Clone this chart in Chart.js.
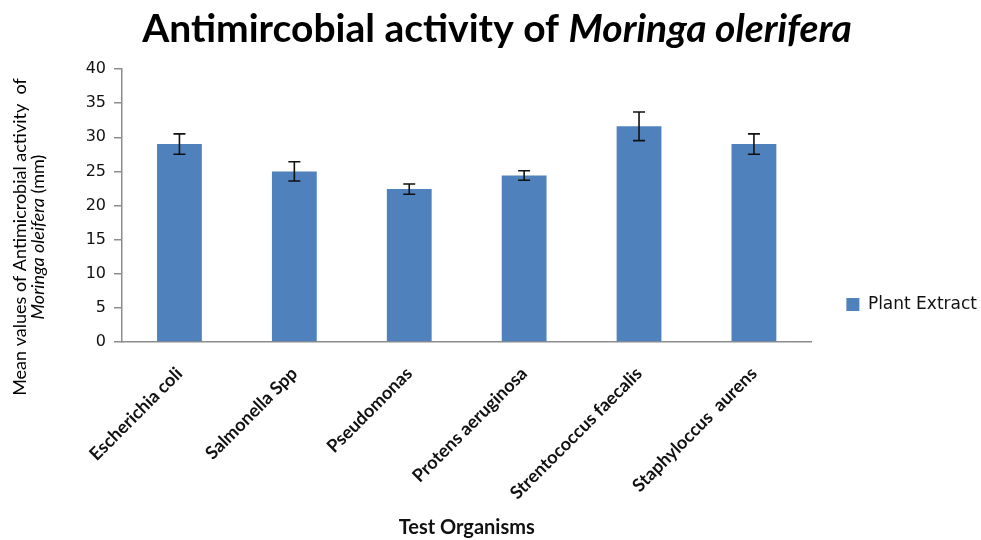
<!DOCTYPE html>
<html>
<head>
<meta charset="utf-8">
<script src="https://cdn.jsdelivr.net/npm/chart.js@4"></script>
<style>
  html, body { margin: 0; padding: 0; background: #fff; }
  #wrap { width: 981px; height: 540px; }
</style>
</head>
<body>
<div id="wrap"><canvas id="canBar" width="981" height="540"></canvas></div>
<script>
// data
var organisms = ['Escherichia coli', 'Salmonella Spp', 'Pseudomonas', 'Protens aeruginosa', 'Strentococcus faecalis', 'Staphyloccus  aurens'];
var meanValues = [29.0, 25.0, 22.4, 24.4, 31.6, 29.0];
var errValues = [1.5, 1.4, 0.75, 0.7, 2.1, 1.5];
var yTicks = [0, 5, 10, 15, 20, 25, 30, 35, 40];

// error bars, placed through the chart's own scales
var errorBars = {
    id: 'errorBars',
    afterDatasetsDraw: function (chart) {
        var ctx = chart.ctx;
        var meta = chart.getDatasetMeta(0);
        var y = chart.scales.y;
        ctx.save();
        ctx.strokeStyle = '#111';
        ctx.lineWidth = 1.6;
        meta.data.forEach(function (bar, i) {
            var top = y.getPixelForValue(meanValues[i] + errValues[i]);
            var bot = y.getPixelForValue(meanValues[i] - errValues[i]);
            ctx.beginPath();
            ctx.moveTo(bar.x, top); ctx.lineTo(bar.x, bot);
            ctx.moveTo(bar.x - 6, top); ctx.lineTo(bar.x + 6, top);
            ctx.moveTo(bar.x - 6, bot); ctx.lineTo(bar.x + 6, bot);
            ctx.stroke();
        });
        ctx.restore();
    }
};

// title and y axis title have italic words, so draw them by hand
var titles = {
    id: 'titles',
    afterDraw: function (chart) {
        var ctx = chart.ctx;
        ctx.save();
        ctx.fillStyle = '#000';
        ctx.textBaseline = 'alphabetic';

        var a = 'Antimircobial activity of ';
        var b = 'Moringa olerifera';
        var fa = 'bold 39px Lato';
        var fb = 'italic bold 39px Lato';
        ctx.font = fa; var wa = ctx.measureText(a).width;
        ctx.font = fb; var wb = ctx.measureText(b).width;
        var x0 = 497 - (wa + wb) / 2;
        ctx.textAlign = 'left';
        ctx.font = fa; ctx.fillText(a, x0, 42);
        ctx.font = fb; ctx.fillText(b, x0 + wa, 42);

        ctx.translate(26, 237);
        ctx.rotate(-Math.PI / 2);
        ctx.font = '18px Lato';
        ctx.textAlign = 'center';
        ctx.fillText('Mean values of Antimicrobial activity  of', 0, 0);
        var l1 = 'Moringa oleifera';
        var l2 = ' (mm)';
        ctx.font = 'italic 18px Lato'; var w1 = ctx.measureText(l1).width;
        ctx.font = '18px Lato'; var w2 = ctx.measureText(l2).width;
        ctx.textAlign = 'left';
        ctx.font = 'italic 18px Lato'; ctx.fillText(l1, -(w1 + w2) / 2, 18);
        ctx.font = '18px Lato'; ctx.fillText(l2, -(w1 + w2) / 2 + w1, 18);
        ctx.restore();
    }
};

var ctx = document.getElementById('canBar').getContext('2d');
new Chart(ctx, {
    type: 'bar',
    data: {
        labels: organisms,
        datasets: [{
            label: 'Plant Extract',
            data: meanValues,
            backgroundColor: '#4F81BD',
            barPercentage: 0.39,
            categoryPercentage: 1.0
        }]
    },
    options: {
        responsive: false,
        animation: false,
        layout: { padding: { top: 69, left: 50, right: -6, bottom: 0 } },
        plugins: {
            title: { display: false },
            tooltip: { enabled: false },
            legend: {
                position: 'right',
                labels: {
                    boxWidth: 13,
                    boxHeight: 13,
                    color: '#111',
                    font: { family: 'DejaVu Sans', size: 17 },
                    padding: 35
                }
            }
        },
        scales: {
            x: {
                afterFit: function (scale) { scale.height = 198; },
                grid: { display: false, drawTicks: false },
                border: { color: '#8c8c8c', width: 1.5 },
                ticks: {
                    minRotation: 45,
                    maxRotation: 45,
                    padding: 21,
                    color: '#111',
                    font: { family: 'Lato', size: 18, weight: 'bold' }
                },
                title: {
                    display: true,
                    text: 'Test Organisms',
                    color: '#111',
                    padding: { top: 0, bottom: 0 },
                    font: { family: 'Lato', size: 20, weight: 'bold' }
                }
            },
            y: {
                min: 0,
                max: 40,
                afterBuildTicks: function (scale) {
                    scale.ticks = yTicks.map(function (v) { return { value: v }; });
                },
                afterFit: function (scale) { scale.width = 72; },
                grid: { display: true, drawOnChartArea: false, drawTicks: true, tickLength: 8, color: '#8c8c8c', lineWidth: 1.5 },
                border: { color: '#8c8c8c', width: 1.5 },
                ticks: {
                    padding: 8,
                    color: '#111',
                    font: { family: 'DejaVu Sans', size: 16 }
                }
            }
        }
    },
    plugins: [errorBars, titles]
});
</script>
</body>
</html>
